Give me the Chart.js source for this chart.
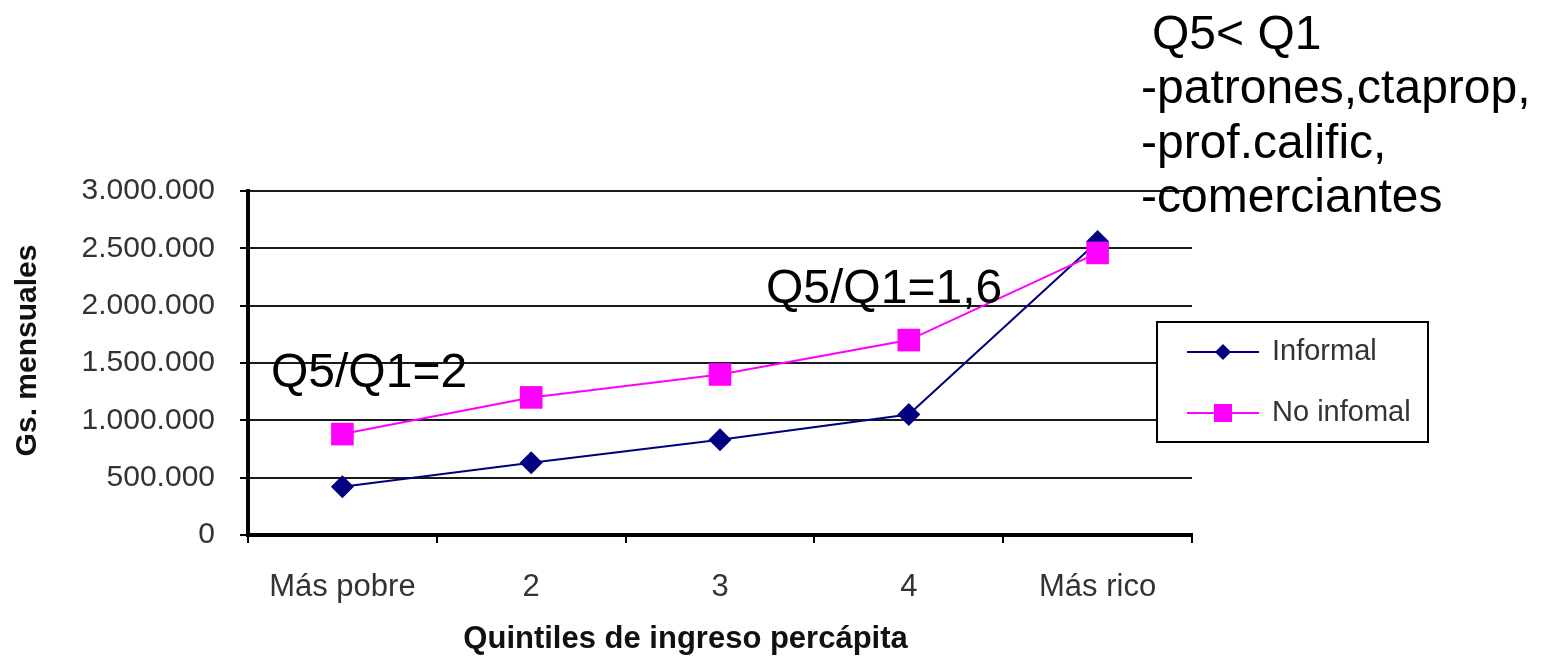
<!DOCTYPE html>
<html>
<head>
<meta charset="utf-8">
<script src="https://cdn.jsdelivr.net/npm/chart.js@4"></script>
<style>
  html, body { margin: 0; padding: 0; background: #fff; }
  #wrap { width: 1545px; height: 658px; }
</style>
</head>
<body>
<div id="wrap"><canvas id="chart" width="1545" height="658"></canvas></div>
<script>
// ----------------------
// Data
// ----------------------
const quintiles = ["Más pobre", "2", "3", "4", "Más rico"];
const informal = [420000, 630000, 830000, 1050000, 2560000];
const noInformal = [880000, 1200000, 1400000, 1700000, 2460000];
const seriesNames = ["Informal", "No infomal"];
const yMax = 3000000;
const yStep = 500000;
const yTitle = "Gs. mensuales";
const xTitle = "Quintiles de ingreso percápita";
const ratioNotes = ["Q5/Q1=2", "Q5/Q1=1,6"];
const sideNote = ["Q5< Q1", "-patrones,ctaprop,", "-prof.calific,", "-comerciantes"];

const NAVY = "#000080";
const PINK = "#ff00ff";
const FONT = "'Liberation Sans', Arial, sans-serif";

function dots(v) {
  return String(v).replace(/\B(?=(\d{3})+(?!\d))/g, ".");
}

// ----------------------
// Plugins: legend box + free text
// ----------------------
function marker(ctx, style, x, y, r, color) {
  ctx.fillStyle = color;
  ctx.beginPath();
  if (style === "rectRot") {
    ctx.moveTo(x, y - r); ctx.lineTo(x + r, y); ctx.lineTo(x, y + r); ctx.lineTo(x - r, y);
    ctx.closePath();
  } else {
    ctx.rect(x - r, y - r, 2 * r, 2 * r);
  }
  ctx.fill();
}

const legendBox = {
  id: "legendBox",
  afterDraw(chart) {
    const ctx = chart.ctx;
    ctx.save();
    ctx.fillStyle = "#fff";
    ctx.fillRect(1157, 322, 271, 120);
    ctx.strokeStyle = "#000";
    ctx.lineWidth = 2;
    ctx.strokeRect(1157, 322, 271, 120);

    const rows = [352, 413];
    const sizes = [8, 9];
    seriesNames.forEach((name, i) => {
      const ds = chart.data.datasets.find(d => d.label === name);
      const y = rows[i];
      ctx.strokeStyle = ds.borderColor;
      ctx.lineWidth = 2;
      ctx.beginPath();
      ctx.moveTo(1187, y);
      ctx.lineTo(1259, y);
      ctx.stroke();
      marker(ctx, ds.pointStyle, 1223, y, sizes[i], ds.backgroundColor);
      ctx.fillStyle = "#333";
      ctx.font = "29px " + FONT;
      ctx.textBaseline = "middle";
      ctx.textAlign = "left";
      ctx.fillText(name, 1272, y);
    });
    ctx.restore();
  }
};

const notesPlugin = {
  id: "notesPlugin",
  afterDraw(chart) {
    const ctx = chart.ctx;
    ctx.save();
    ctx.fillStyle = "#000";
    ctx.font = "48px " + FONT;
    ctx.textBaseline = "alphabetic";
    ctx.textAlign = "left";
    ctx.fillText(ratioNotes[0], 271, 387);
    ctx.fillText(ratioNotes[1], 766, 303);
    const base = [49, 103, 158, 212];
    sideNote.forEach((t, i) => {
      ctx.fillText(t, i === 0 ? 1152 : 1141, base[i]);
    });
    ctx.restore();
  }
};

// ----------------------
// Chart
// ----------------------
const ctx = document.getElementById("chart").getContext("2d");
new Chart(ctx, {
  type: "line",
  data: {
    labels: quintiles,
    datasets: [
      {
        label: seriesNames[0], data: informal, order: 2,
        borderColor: NAVY, backgroundColor: NAVY, borderWidth: 2,
        pointStyle: "rectRot", pointRadius: 11.5, pointBorderWidth: 0,
        pointBackgroundColor: NAVY, tension: 0
      },
      {
        label: seriesNames[1], data: noInformal, order: 1,
        borderColor: PINK, backgroundColor: PINK, borderWidth: 2,
        pointStyle: "rect", pointRadius: 16, pointBorderWidth: 0,
        pointBackgroundColor: PINK, tension: 0
      }
    ]
  },
  options: {
    responsive: false,
    animation: false,
    layout: { padding: { top: 191, right: 353, left: 0, bottom: 0 } },
    plugins: { legend: { display: false }, tooltip: { enabled: false } },
    scales: {
      x: {
        offset: true,
        afterFit: s => { s.height = 123; },
        grid: { offset: true, drawOnChartArea: false, drawTicks: true, tickLength: 8, tickColor: "#000", lineWidth: 2 },
        border: { display: true, color: "#000", width: 4 },
        ticks: { color: "#333", padding: 26, font: { family: FONT, size: 31 } },
        // trailing spaces nudge the centred title to the left, as in the original
        title: { display: true, text: xTitle + "        ", color: "#111", padding: { top: 0, bottom: 0 }, font: { family: FONT, size: 31, weight: "bold" } }
      },
      y: {
        min: 0, max: yMax,
        afterFit: s => { s.width = 248; },
        grid: { color: "#1a1a1a", lineWidth: 2, tickLength: 8, tickColor: "#000" },
        border: { display: true, color: "#000", width: 4 },
        ticks: { stepSize: yStep, color: "#333", padding: 25, font: { family: FONT, size: 30 }, callback: v => dots(v) },
        title: { display: true, text: "   " + yTitle, color: "#111", padding: { top: 10, bottom: 0 }, font: { family: FONT, size: 30, weight: "bold" } }
      }
    }
  },
  plugins: [legendBox, notesPlugin]
});
</script>
</body>
</html>
